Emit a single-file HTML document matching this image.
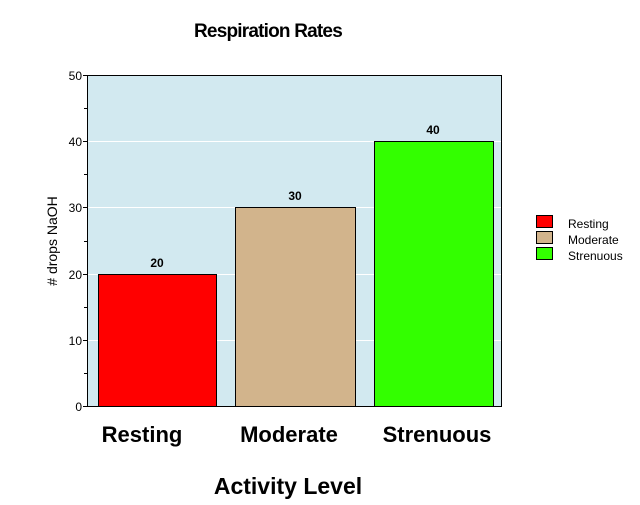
<!DOCTYPE html>
<html><head><meta charset="utf-8"><style>body{margin:0;background:#fff}</style></head>
<body>
<svg width="640" height="500" xmlns="http://www.w3.org/2000/svg" font-family="Liberation Sans, Arial, sans-serif">
<rect width="640" height="500" fill="#fff"/>
<text x="268" y="37" text-anchor="middle" font-size="19" font-weight="bold" style="letter-spacing:-0.8px">Respiration Rates</text>
<rect x="87" y="75" width="415" height="332" fill="#d2e9f0"/>
<g stroke="#fff" stroke-width="1">
<line x1="88" x2="501" y1="141.5" y2="141.5"/><line x1="88" x2="501" y1="207.5" y2="207.5"/>
<line x1="88" x2="501" y1="274.5" y2="274.5"/><line x1="88" x2="501" y1="340.5" y2="340.5"/>
</g>
<rect x="98.5" y="274.5" width="118" height="132" fill="#ff0000" stroke="#000"/>
<rect x="235.5" y="207.5" width="120" height="199" fill="#d2b48c" stroke="#000"/>
<rect x="374.5" y="141.5" width="119" height="265" fill="#33ff00" stroke="#000"/>
<g font-size="12" font-weight="bold" text-anchor="middle">
<text x="157" y="267">20</text><text x="295" y="200">30</text><text x="433" y="134">40</text>
</g>
<rect x="87.5" y="75.5" width="414" height="331" fill="none" stroke="#000"/>
<g stroke="#000">
<line x1="83" x2="87" y1="75.5" y2="75.5"/><line x1="84" x2="87" y1="108.5" y2="108.5"/>
<line x1="83" x2="87" y1="141.5" y2="141.5"/><line x1="84" x2="87" y1="174.5" y2="174.5"/>
<line x1="83" x2="87" y1="207.5" y2="207.5"/><line x1="84" x2="87" y1="241.5" y2="241.5"/>
<line x1="83" x2="87" y1="274.5" y2="274.5"/><line x1="84" x2="87" y1="307.5" y2="307.5"/>
<line x1="83" x2="87" y1="340.5" y2="340.5"/><line x1="84" x2="87" y1="373.5" y2="373.5"/>
<line x1="83" x2="87" y1="406.5" y2="406.5"/>
</g>
<g font-size="12" text-anchor="end">
<text x="82" y="80">50</text><text x="82" y="146">40</text><text x="82" y="212">30</text>
<text x="82" y="279">20</text><text x="82" y="345">10</text><text x="82" y="411">0</text>
</g>
<text transform="translate(57,241) rotate(-90)" text-anchor="middle" font-size="14"># drops NaOH</text>
<g font-size="22" font-weight="bold" text-anchor="middle">
<text x="142" y="442">Resting</text><text x="289" y="442">Moderate</text><text x="437" y="442">Strenuous</text>
</g>
<text x="288" y="494" text-anchor="middle" font-size="23" font-weight="bold">Activity Level</text>
<rect x="536.5" y="215.5" width="16" height="12" fill="#ff0000" stroke="#000"/>
<rect x="536.5" y="231.5" width="16" height="12" fill="#d2b48c" stroke="#000"/>
<rect x="536.5" y="247.5" width="16" height="12" fill="#33ff00" stroke="#000"/>
<g font-size="12">
<text x="568" y="228">Resting</text><text x="568" y="244">Moderate</text><text x="568" y="260">Strenuous</text>
</g>
</svg>
</body></html>
